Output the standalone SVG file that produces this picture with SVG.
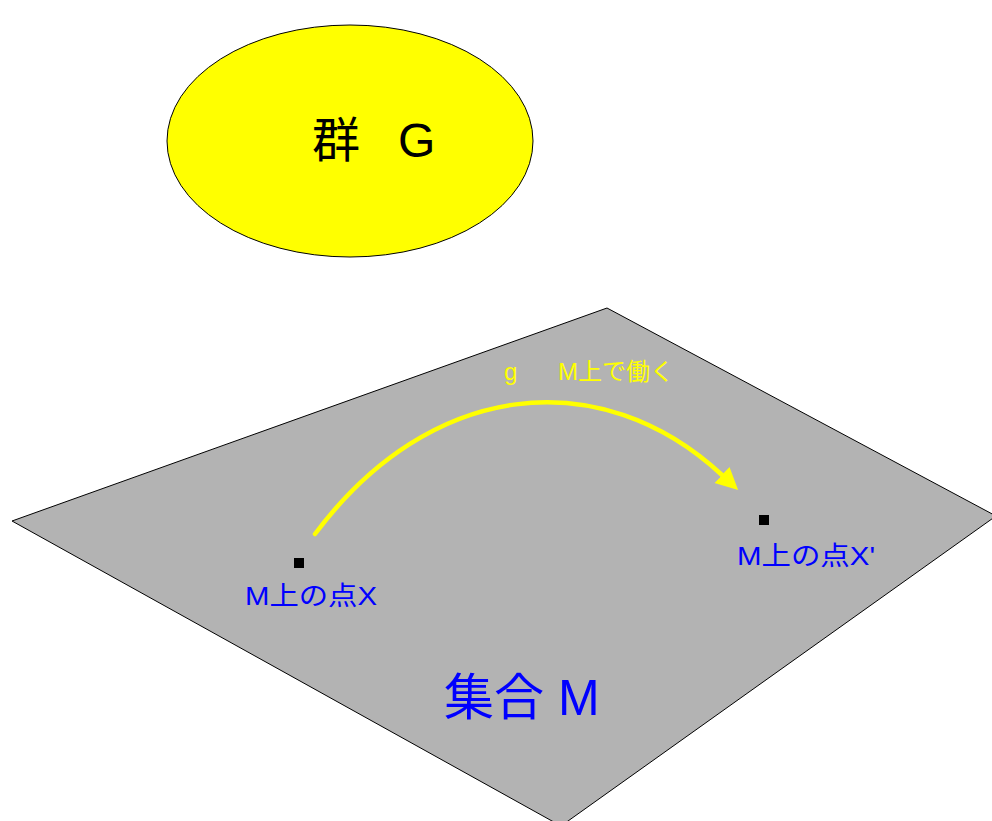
<svg xmlns="http://www.w3.org/2000/svg" width="992" height="821" viewBox="0 0 992 821">
  <style>
    text { font-family: "Liberation Sans", "Noto Sans CJK JP", sans-serif; }
    .edge { stroke: #000; stroke-width: 1; }
    .pt { fill: #000; }
    .blue { fill: #0000FF; }
  </style>
  <defs>
    <marker id="arrow" markerUnits="userSpaceOnUse" markerWidth="26" markerHeight="24" refX="0" refY="11" orient="auto">
      <path d="M0,0 L22,11 L0,22 Z" fill="#FFFF00"/>
    </marker>
  </defs>
  <rect width="992" height="821" fill="#FFFFFF"/>

  <g id="setM">
    <polygon points="607,308 996,516 561,826 12,521" fill="#B3B3B3" class="edge"/>
    <text x="444" y="715" font-size="50" class="blue">集合 M</text>
  </g>

  <g id="groupG">
    <ellipse cx="350" cy="141" rx="183" ry="116" fill="#FFFF00" class="edge"/>
    <text y="157" font-size="48" fill="#000"><tspan x="312">群</tspan><tspan x="398">G</tspan></text>
  </g>

  <g id="pointX">
    <rect x="294" y="558" width="10" height="10" class="pt"/>
    <text x="245" y="605" font-size="26" class="blue" textLength="132" lengthAdjust="spacingAndGlyphs">M上の点X</text>
  </g>

  <g id="pointX2">
    <rect x="759" y="515" width="10" height="10" class="pt"/>
    <text x="737" y="565" font-size="26" class="blue" textLength="138" lengthAdjust="spacingAndGlyphs">M上の点X'</text>
  </g>

  <g id="connectors">
    <path d="M315,534 C430,380 600,362 722,475" fill="none" stroke="#FFFF00" stroke-width="4.5" stroke-linecap="round" marker-end="url(#arrow)"/>
    <text y="380" font-size="24" fill="#FFFF00"><tspan x="504">g</tspan><tspan x="558">M上で働く</tspan></text>
  </g>
</svg>
